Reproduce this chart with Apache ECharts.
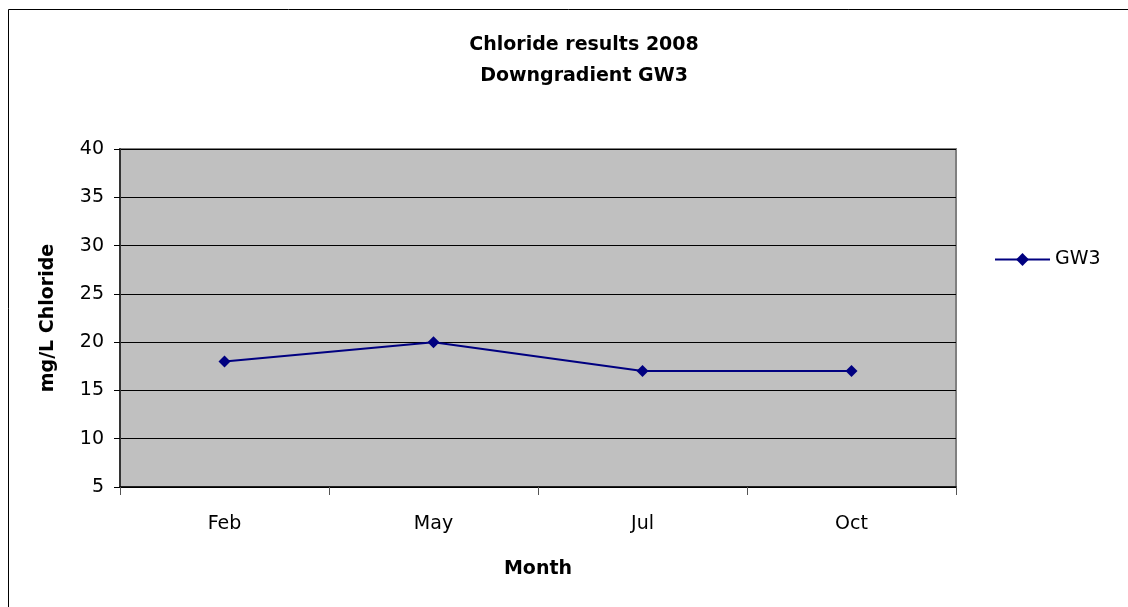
<!DOCTYPE html>
<html>
<head>
<meta charset="utf-8">
<script src="https://cdn.jsdelivr.net/npm/echarts@6/dist/echarts.min.js"></script>
<style>
  html, body { margin: 0; padding: 0; background: #fff; }
  #chart { width: 1128px; height: 607px; }
</style>
</head>
<body>
<div id="chart"></div>
<script>
// Chloride concentrations at downgradient well GW3, 2008
const months = ['Feb', 'May', 'Jul', 'Oct'];
const gw3 = [18, 20, 17, 17];
const titleLines = ['Chloride results 2008', 'Downgradient GW3'];

const FONT = "'DejaVu Sans', 'Liberation Sans', Arial, sans-serif";
const chart = echarts.init(document.getElementById('chart'));

chart.setOption({
  animation: false,
  backgroundColor: '#ffffff',
  title: {
    text: titleLines.join('\n'),
    left: 579, top: 25, textAlign: 'center',
    textStyle: { fontFamily: FONT, fontSize: 19, fontWeight: 'bold', color: '#000', lineHeight: 31 }
  },
  legend: {
    data: ['GW3'],
    left: 989, top: 245,
    itemWidth: 55, itemHeight: 16,
    textStyle: { fontFamily: FONT, fontSize: 19, color: '#000' }
  },
  grid: {
    left: 120, right: 172, top: 149, bottom: 120,
    show: true, backgroundColor: '#C0C0C0', borderColor: '#808080', borderWidth: 2
  },
  xAxis: {
    type: 'category', data: months, boundaryGap: true,
    name: 'Month', nameLocation: 'middle', nameGap: 73,
    nameTextStyle: { fontFamily: FONT, fontSize: 19, fontWeight: 'bold', color: '#000' },
    axisLine: { lineStyle: { color: '#000', width: 1.5 } },
    axisTick: { show: true, length: 8, lineStyle: { color: '#555' } },
    axisLabel: { fontFamily: FONT, fontSize: 19, color: '#000', margin: 28 },
    splitLine: { show: false }
  },
  yAxis: {
    type: 'value', min: 5, max: 40, interval: 5,
    name: 'mg/L Chloride', nameLocation: 'middle', nameGap: 62, nameRotate: 90,
    nameTextStyle: { fontFamily: FONT, fontSize: 19, fontWeight: 'bold', color: '#000' },
    axisLine: { show: true, lineStyle: { color: '#333', width: 2 } },
    axisTick: { show: true, length: 6, lineStyle: { color: '#000' } },
    axisLabel: { fontFamily: FONT, fontSize: 19, color: '#000', margin: 16 },
    splitLine: { show: true, lineStyle: { color: '#000', width: 1 } }
  },
  series: [{
    name: 'GW3', type: 'line', data: gw3,
    symbol: 'diamond', symbolSize: 12,
    itemStyle: { color: '#000080' },
    lineStyle: { color: '#000080', width: 2 }
  }],
  graphic: [{
    type: 'rect', silent: true, z: -1,
    shape: { x: 8.5, y: 9.5, width: 1140, height: 620 },
    style: { fill: 'none', stroke: '#000', lineWidth: 1 }
  }]
});
</script>
</body>
</html>
